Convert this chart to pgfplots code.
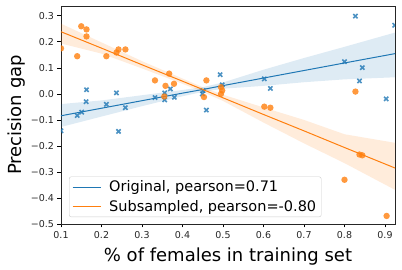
\documentclass[border=0pt]{standalone}
\usepackage{fontspec}
\setmainfont{DejaVu Sans}
\usepackage{pgfplots}
\usepackage{pgfplotstable}
\pgfplotsset{compat=1.18}
\usepgfplotslibrary{fillbetween}
\definecolor{mblue}{HTML}{1F77B4}
\definecolor{morange}{HTML}{FF7F0E}

\pgfplotstableread{
x y
0.100 -0.142
0.140 -0.083
0.151 -0.070
0.162 -0.030
0.163 0.016
0.212 -0.040
0.237 0.004
0.242 -0.144
0.259 -0.053
0.332 -0.014
0.356 0.004
0.356 -0.023
0.370 0.019
0.380 -0.013
0.449 0.000
0.451 0.013
0.459 -0.062
0.493 0.074
0.498 0.035
0.602 0.058
0.617 0.021
0.800 0.124
0.827 0.299
0.837 0.050
0.844 0.101
0.903 -0.019
0.924 0.264
}\origdata

\pgfplotstableread{
x y
0.100 0.175
0.140 0.145
0.150 0.260
0.163 0.248
0.163 0.221
0.212 0.145
0.237 0.159
0.242 0.171
0.259 0.171
0.332 0.052
0.355 -0.010
0.358 0.031
0.367 0.078
0.379 0.039
0.453 -0.012
0.459 0.052
0.495 0.026
0.495 0.000
0.498 0.013
0.602 -0.049
0.617 -0.053
0.800 -0.330
0.827 0.009
0.837 -0.233
0.844 -0.236
0.904 -0.469
0.925 -0.259
}\subdata

% fit line and confidence band: x, line, lower, upper
\pgfplotstableread{
x line lo hi
0.100 -0.084 -0.127 -0.039
0.200 -0.055 -0.087 -0.025
0.300 -0.026 -0.047 -0.005
0.400 0.003 -0.009 0.015
0.450 0.017 0.008 0.026
0.500 0.032 0.020 0.044
0.600 0.061 0.031 0.093
0.700 0.090 0.045 0.138
0.800 0.119 0.056 0.181
0.925 0.155 0.064 0.236
}\origfit

\pgfplotstableread{
x line lo hi
0.100 0.239 0.194 0.270
0.200 0.176 0.155 0.198
0.300 0.112 0.098 0.126
0.400 0.049 0.039 0.059
0.450 0.017 0.008 0.026
0.500 -0.015 -0.027 -0.003
0.600 -0.079 -0.110 -0.052
0.700 -0.142 -0.190 -0.100
0.800 -0.206 -0.266 -0.155
0.925 -0.285 -0.369 -0.188
}\subfit

\begin{document}
\begin{tikzpicture}
\begin{axis}[
  at={(0,0)}, anchor=south west,
  scale only axis, width=334pt, height=218pt,
  xmin=0.1, xmax=0.9247, ymin=-0.5, ymax=0.338,
  axis line style={line width=0.9pt, black!85},
  tick align=outside, major tick length=3.5pt,
  tick style={line width=0.8pt, black},
  xtick pos=bottom, ytick pos=left,
  xtick={0.1,0.2,0.3,0.4,0.5,0.6,0.7,0.8,0.9},
  xticklabels={0.1,0.2,0.3,0.4,0.5,0.6,0.7,0.8,0.9},
  ytick={-0.5,-0.4,-0.3,-0.2,-0.1,0,0.1,0.2,0.3},
  yticklabels={−0.5,−0.4,−0.3,−0.2,−0.1,0.0,0.1,0.2,0.3},
  ticklabel style={font=\fontsize{9.5}{11}\selectfont, text=black!85},
  xlabel={\% of females in training set},
  ylabel={Precision gap},
  xlabel style={font=\fontsize{18}{21}\selectfont, at={(axis description cs:0.5,-0.147)}, anchor=center},
  ylabel style={font=\fontsize{18}{21}\selectfont, at={(axis description cs:-0.132,0.5)}, anchor=center},
  clip marker paths=true,
  legend cell align=left,
  legend style={at={(axis description cs:0.024,0.032)}, anchor=south west,
    draw=black!20, rounded corners=2pt, fill=white,
    font=\fontsize{14.5}{17.5}\selectfont, inner xsep=3pt, inner ysep=2pt, row sep=3pt,
    /tikz/every odd column/.append style={column sep=6pt}},
  legend image code/.code={\draw[#1] (0pt,0pt) -- (28pt,0pt);},
]
% Original
\addplot[name path=obl, draw=none, forget plot] table[x=x, y=lo] {\origfit};
\addplot[name path=obh, draw=none, forget plot] table[x=x, y=hi] {\origfit};
\addplot[mblue, fill opacity=0.15, draw=none, forget plot] fill between[of=obl and obh];
\addplot[mblue, only marks, mark=x, mark size=3pt, line width=1.6pt, opacity=0.8, forget plot] table[x=x, y=y] {\origdata};
\addplot[mblue, line width=1pt] table[x=x, y=line] {\origfit};
\addlegendentry{Original, pearson=0.71}
% Subsampled
\addplot[name path=sbl, draw=none, forget plot] table[x=x, y=lo] {\subfit};
\addplot[name path=sbh, draw=none, forget plot] table[x=x, y=hi] {\subfit};
\addplot[morange, fill opacity=0.15, draw=none, forget plot] fill between[of=sbl and sbh];
\addplot[morange, only marks, mark=*, mark size=3.2pt, mark options={fill=morange, fill opacity=0.8, draw opacity=0}, forget plot] table[x=x, y=y] {\subdata};
\addplot[morange, line width=1pt] table[x=x, y=line] {\subfit};
\addlegendentry{Subsampled, pearson=-0.80}
\end{axis}
\pgfresetboundingbox
\path[use as bounding box] (-61pt,-46pt) rectangle (341pt,224pt);
\end{tikzpicture}
\end{document}
